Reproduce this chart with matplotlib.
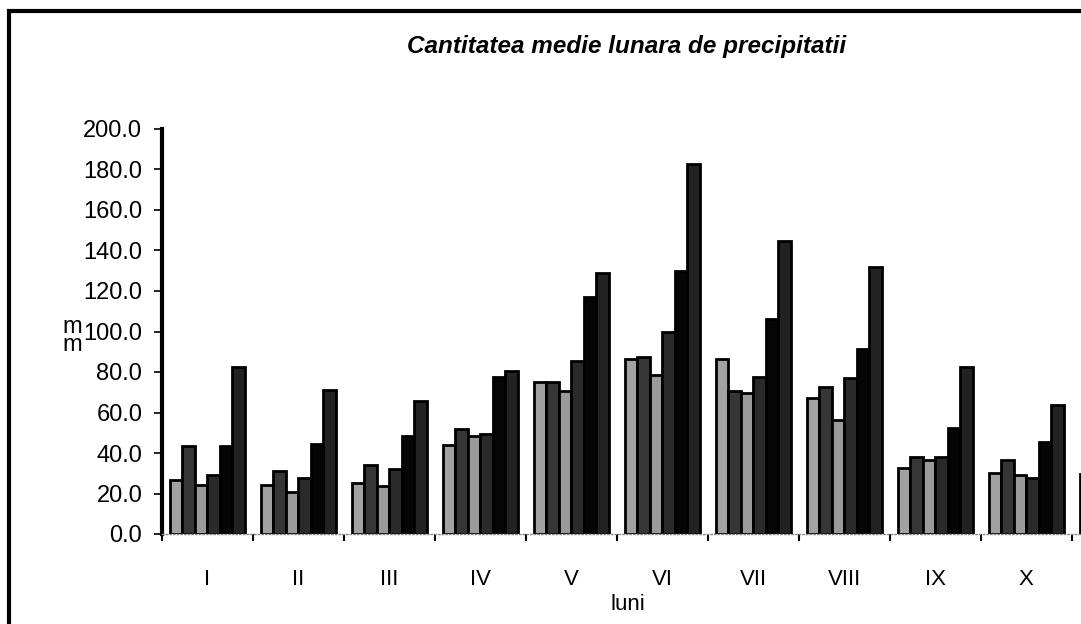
import numpy as np
import matplotlib
matplotlib.use("Agg")
import matplotlib.pyplot as plt

# month labels (XI is cut off at the right edge of the original picture)
luni = ["I", "II", "III", "IV", "V", "VI", "VII", "VIII", "IX", "X", "XI"]

# six series, values (mm)
s1 = [26.7, 24.2, 25.2, 44.1, 74.9, 86.4, 86.4, 67.0, 32.6, 30.1, 29.8]
s2 = [43.3, 30.9, 34.2, 51.9, 74.9, 87.4, 70.4, 72.6, 38.0, 36.7, np.nan]
s3 = [24.2, 20.6, 23.9, 48.2, 70.5, 78.4, 69.8, 56.5, 36.5, 29.0, np.nan]
s4 = [29.0, 27.7, 31.9, 49.4, 85.3, 99.6, 77.5, 77.2, 38.0, 27.8, np.nan]
s5 = [43.3, 44.3, 48.4, 77.4, 116.8, 130.0, 106.3, 91.6, 52.5, 45.6, np.nan]
s6 = [82.5, 70.9, 65.5, 80.7, 128.9, 182.7, 144.8, 132.0, 82.6, 63.5, np.nan]

series = [s1, s2, s3, s4, s5, s6]
culori = ["#a2a2a2", "#363636", "#9a9a9a", "#2a2a2a", "#050505", "#222222"]

W, H = 1081, 624
fig = plt.figure(figsize=(W / 100, H / 100), dpi=100)

# axes: y axis at x=161.7, baseline y=534, top (200) at y=129, one month = 91 px
left = 161.7 / W
bottom = (H - 534) / H
height = (534 - 129) / H
width = 11 * 91.0 / W
ax = fig.add_axes([left, bottom, width, height])

x = np.arange(1, len(luni) + 1)
bw = 0.137
for i, (vals, c) in enumerate(zip(series, culori)):
    ax.bar(x + (i - 2.5) * bw, vals, bw, color=c, edgecolor="black", linewidth=2)

ax.set_xlim(0.5, 11.5)
ax.set_ylim(0, 200)
ax.set_yticks(np.arange(0, 201, 20))
ax.set_yticklabels(["%.1f" % v for v in np.arange(0, 201, 20)],
                   family=["Liberation Sans", "DejaVu Sans"], fontsize=17)
ax.set_xticks(x[:-1])
ax.set_xticklabels(luni[:-1], family=["Liberation Sans", "DejaVu Sans"], fontsize=16)
ax.set_xticks(np.arange(0.5, 11.5, 1), minor=True)
ax.tick_params(axis="x", which="major", length=0, pad=25)
ax.tick_params(axis="x", which="minor", length=5, width=1.5, direction="out")
ax.tick_params(axis="y", length=6, width=1.2, pad=8)

for s in ["top", "right"]:
    ax.spines[s].set_visible(False)
ax.spines["left"].set_linewidth(3)
ax.spines["bottom"].set_linewidth(1)
ax.spines["bottom"].set_color("#888888")
ax.spines["bottom"].set_linestyle(":")

fig.text(627 / W, (H - 47) / H, "Cantitatea medie lunara de precipitatii",
         ha="center", va="center", fontsize=17.5, fontweight="bold", fontstyle="italic",
         family=["Liberation Sans", "DejaVu Sans"])
fig.text(628 / W, (H - 604) / H, "luni", ha="center", va="center", fontsize=16,
         family=["Liberation Sans", "DejaVu Sans"])
fig.text(72 / W, (H - 336) / H, "m\nm", ha="center", va="center", fontsize=17,
         linespacing=0.75, family=["Liberation Sans", "DejaVu Sans"])

# chart frame (only top and left edges are inside the picture)
frame = plt.Rectangle((9 / W, -0.2), 2, (H - 11) / H + 0.2, transform=fig.transFigure,
                      fill=False, edgecolor="black", linewidth=3, clip_on=False)
fig.patches.append(frame)

fig.savefig("out.png", dpi=100)
